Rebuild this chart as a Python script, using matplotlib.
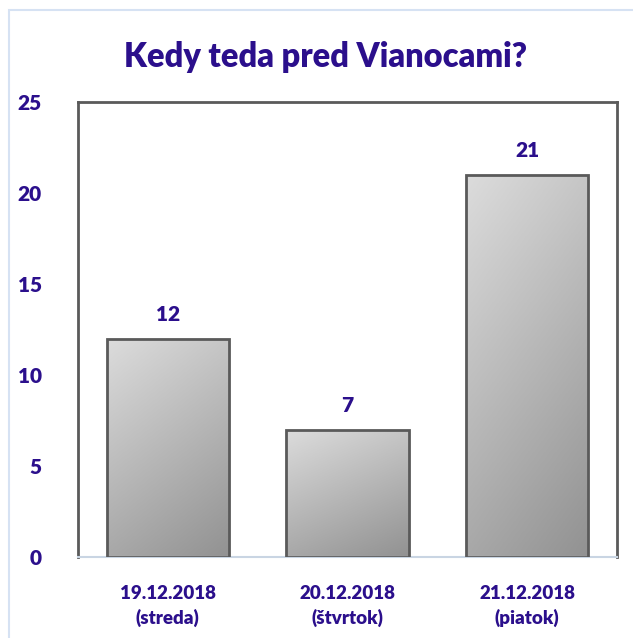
import matplotlib
matplotlib.use("Agg")
import matplotlib.pyplot as plt
import numpy as np
from matplotlib.patches import Rectangle

plt.rcParams["font.family"] = ["Lato", "DejaVu Sans"]

days = ["19.12.2018\n(streda)", "20.12.2018\n(štvrtok)", "21.12.2018\n(piatok)"]
votes = [12, 7, 21]
y_ticks = [0, 5, 10, 15, 20, 25]

TXT = "#2b0f8c"
EDGE = "#5a5a5a"
W = "heavy"

fig = plt.figure(figsize=(6.33, 6.38), dpi=100)
ax = fig.add_axes([0.1232, 0.127, 0.8515, 0.7131])

# outer chart-area frame (only left/top visible in the crop)
fig.patches.append(Rectangle((9 / 633, -0.05), 1.2, 1 - 10 / 638 + 0.05,
                             transform=fig.transFigure, fill=False,
                             edgecolor="#d6e2f3", linewidth=1.5))

x = np.arange(len(days))
bars = ax.bar(x, votes, width=0.68, color="none", edgecolor=EDGE,
              linewidth=2, zorder=3)

# diagonal grey gradient inside each bar
gy, gx = np.mgrid[0:1:100j, 0:1:100j]
grad = 0.7 * gy + 0.3 * gx
cmap = matplotlib.colors.LinearSegmentedColormap.from_list("g", ["#dcdcdc", "#929292"])
for b in bars:
    x0, y0 = b.get_x(), b.get_y()
    w, h = b.get_width(), b.get_height()
    im = ax.imshow(grad, cmap=cmap, extent=[x0, x0 + w, y0, y0 + h],
                   origin="upper", aspect="auto", zorder=2, interpolation="bilinear")
    im.set_clip_path(b)

for xi, v in zip(x, votes):
    ax.text(xi, v + 0.8, str(v), ha="center", va="bottom", fontsize=15,
            fontweight=W, color=TXT)

ax.set_xlim(-0.5, 2.5)
ax.set_ylim(0, 25)
ax.set_xticks(x)
ax.set_xticklabels(days, fontsize=13.5, fontweight=W, color=TXT,
                   linespacing=1.45)
ax.set_yticks(y_ticks)
ax.set_yticklabels([str(t) for t in y_ticks], fontsize=15, fontweight=W,
                   color=TXT)
ax.tick_params(length=0, axis="y", pad=26)
ax.tick_params(length=0, axis="x", pad=20)

for s in ["top", "left", "right"]:
    ax.spines[s].set_color(EDGE)
    ax.spines[s].set_linewidth(2)
ax.spines["bottom"].set_color("#c9d5e3")
ax.spines["bottom"].set_linewidth(1.5)

fig.text(0.515, 0.91, "Kedy teda pred Vianocami?", ha="center", va="center",
         fontsize=23.5, fontweight=W, color=TXT)

fig.savefig("out.png", dpi=100, facecolor="white")
